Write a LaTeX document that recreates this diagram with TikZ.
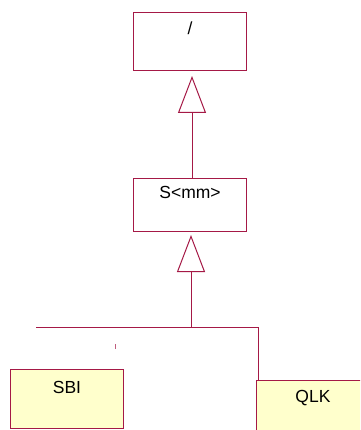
\documentclass[tikz,border=0pt]{standalone}
\usepackage{fontspec}
\setmainfont{Liberation Sans}
\usetikzlibrary{arrows.meta}
\definecolor{umlred}{RGB}{165,25,70}
\definecolor{leafyellow}{RGB}{255,255,204}

\begin{document}
\begin{tikzpicture}[x=1pt,y=-1pt,
    classbox/.style={draw=umlred, fill=white, line width=1pt, minimum width=113pt,
        inner sep=0pt, anchor=north west, font=\fontsize{17.5}{20}\selectfont},
    leafbox/.style={classbox, fill=leafyellow},
    link/.style={draw=umlred, line width=1pt},
    inherit/.style={link, -{Triangle[open, length=37pt, width=28pt, fill=white]}}]

    % Page frame
    \useasboundingbox (0,0) rectangle (360,430);
    \clip (0,0) rectangle (360,430);
    \fill[white] (0,0) rectangle (360,430);

    % Classes
    \node[classbox, text height=22pt, text depth=36pt] (root) at (133,12) {/};
    \node[classbox, text height=20pt, text depth=33pt] (mid) at (133,178) {S<mm>};
    \node[leafbox, text height=24pt, text depth=35pt] (sbi) at (10,369) {SBI};
    \node[leafbox, text height=22pt, text depth=70pt, minimum width=125pt] (qlk) at (256,380) {\hspace*{-12pt}QLK};

    % Junction points
    \coordinate (joint) at (191,327);
    \coordinate (lend) at (36,327);
    \coordinate (tick) at (115,344);

    % Generalizations
    \draw[inherit, shorten >=5pt] ([xshift=2pt]mid.north) -- ([xshift=2pt]root.south);
    \draw[inherit, shorten >=3pt] (joint) -- (joint |- mid.south);
    \draw[link] (lend) -| ([xshift=2pt]qlk.north west);
    \draw[link, draw=umlred!70] (tick) -- ++(0,5);

\end{tikzpicture}
\end{document}
